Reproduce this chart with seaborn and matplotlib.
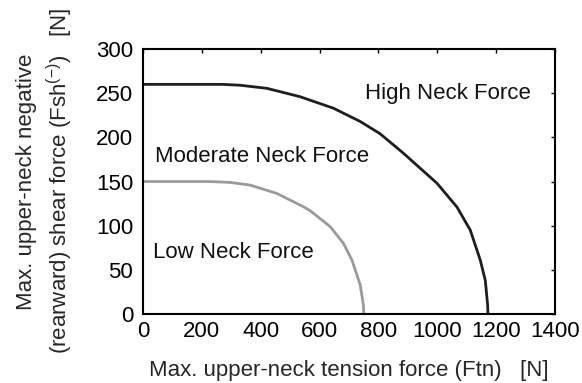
import matplotlib
matplotlib.use("Agg")
import matplotlib.pyplot as plt
import seaborn as sns
import pandas as pd

sns.set_theme(style="white")
plt.rcParams['font.family'] = ['Liberation Sans', 'DejaVu Sans']
plt.rcParams['mathtext.fontset'] = 'custom'
plt.rcParams['mathtext.rm'] = 'Liberation Sans'

# High neck force boundary (dark curve)
high_x = [0, 194, 270, 330, 421, 534, 647, 738, 772, 806, 885, 999, 1067, 1112, 1146, 1163, 1171, 1172]
high_y = [260, 260, 260, 259, 255.5, 246, 233, 218, 211, 204, 182, 148, 121, 95, 61, 38, 10, 0]
# Moderate/low neck force boundary (gray curve)
low_x = [0, 150, 228, 296, 364, 455, 500, 545, 568, 636, 681, 710, 738, 749, 750]
low_y = [150, 150, 150, 149, 146, 136.5, 129, 121.5, 117, 99, 80, 61, 33, 10, 0]

x_ticks = [0, 200, 400, 600, 800, 1000, 1200, 1400]
y_ticks = [0, 50, 100, 150, 200, 250, 300]

region_labels = ["High Neck Force", "Moderate Neck Force", "Low Neck Force"]
region_x = [755, 41, 34]
region_y = [250, 178, 70]

fig = plt.figure(figsize=(5.82, 3.83), dpi=100)
ax = fig.add_axes([0.2457, 0.180, 0.708, 0.692])

df_high = pd.DataFrame({"x": high_x, "y": high_y})
df_low = pd.DataFrame({"x": low_x, "y": low_y})
sns.lineplot(data=df_high, x="x", y="y", sort=False, color="#1e1e1e", lw=2.0, ax=ax)
sns.lineplot(data=df_low, x="x", y="y", sort=False, color="#9a9a9a", lw=2.0, ax=ax)

ax.set_xlim(0, 1400)
ax.set_ylim(0, 300)
ax.set_xticks(x_ticks)
ax.set_yticks(y_ticks)
ax.tick_params(direction="in", length=3, width=1, top=True, right=True,
               labelsize=16, colors="black")
ax.tick_params(axis="x", pad=5)
ax.tick_params(axis="y", pad=7)
for s in ax.spines.values():
    s.set_color("black")
    s.set_linewidth(1.5)

for lab, tx, ty in zip(region_labels, region_x, region_y):
    ax.text(tx, ty, lab, fontsize=16, va="center", ha="left", color="#111111")

ax.set_xlabel("Max. upper-neck tension force (Ftn)   [N]", fontsize=16, labelpad=13)
ax.set_ylabel("Max. upper-neck negative\n(rearward) shear force (Fsh$^{(\\mathregular{-})}$)   [N]",
              fontsize=16, labelpad=15, linespacing=1.35)

fig.savefig("out.png", dpi=100)
